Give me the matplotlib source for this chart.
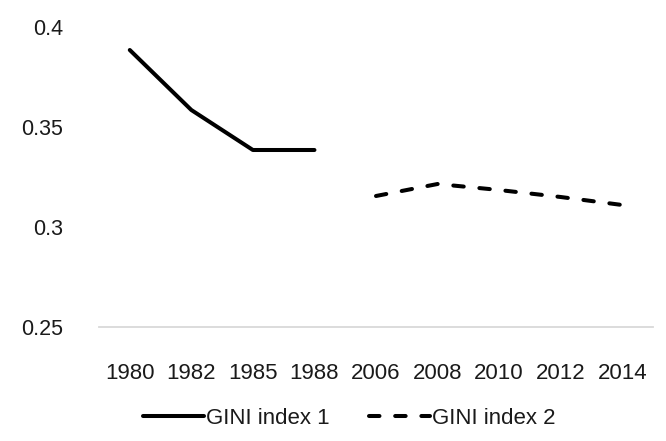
import matplotlib
matplotlib.use("Agg")
import matplotlib.pyplot as plt
import numpy as np

plt.rcParams['font.family'] = ['Liberation Sans', 'DejaVu Sans']

years = ['1980', '1982', '1985', '1988', '2006', '2008', '2010', '2012', '2014']
gini1 = [0.3885, 0.3585, 0.3385, 0.3385, None, None, None, None, None]
gini2 = [None, None, None, None, 0.3155, 0.3215, 0.3185, 0.315, 0.311]
yticks = [0.25, 0.3, 0.35, 0.4]
ytick_labels = ['0.25', '0.3', '0.35', '0.4']

g1 = np.array([np.nan if v is None else v for v in gini1])
g2 = np.array([np.nan if v is None else v for v in gini2])
x = np.arange(len(years))

fig = plt.figure(figsize=(6.66, 4.41), dpi=100)
ax = fig.add_axes([99 / 666, 1 - 327 / 441, 554 / 666, 300 / 441])

ax.plot(x, g1, color='black', lw=2.9, solid_capstyle='round',
        solid_joinstyle='round', label='GINI index 1')
ax.plot(x, g2, color='black', lw=2.9, ls=(0, (2.6, 3.9)),
        dash_capstyle='round', label='GINI index 2')

ax.set_xlim(-0.5, len(years) - 0.5)
ax.set_ylim(0.25, 0.4)
ax.set_xticks(x)
ax.set_xticklabels(years)
ax.set_yticks(yticks)
ax.set_yticklabels(ytick_labels)
ax.tick_params(axis='both', length=0, colors='#1a1a1a')
ax.tick_params(axis='x', pad=26, labelsize=16)
ax.tick_params(axis='y', pad=26, labelsize=15.5)

for s in ['top', 'right', 'left']:
    ax.spines[s].set_visible(False)
ax.spines['bottom'].set_color('#d9d9d9')
ax.spines['bottom'].set_linewidth(1.3)

fig.legend(loc='center', bbox_to_anchor=(349 / 666, 1 - 418 / 441), ncol=2,
           frameon=False, fontsize=16, handlelength=2.75, handletextpad=0.1,
           columnspacing=1.75, labelcolor='#1a1a1a')

fig.savefig('out.png', dpi=100)
